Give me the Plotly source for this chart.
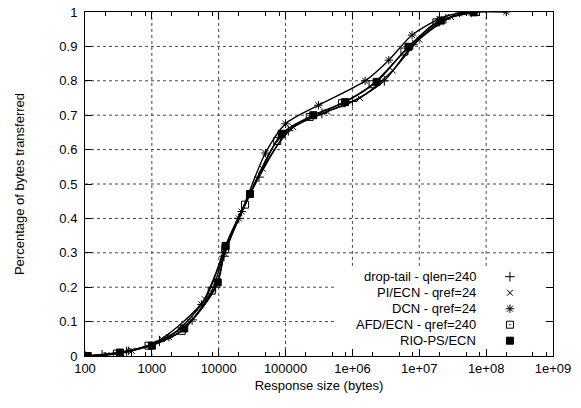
import plotly.graph_objects as go

# ---------------- data ----------------
x_tickvals = [1e2, 1e3, 1e4, 1e5, 1e6, 1e7, 1e8, 1e9]
x_ticktext = ["100", "1000", "10000", "100000", "1e+06", "1e+07", "1e+08", "1e+09"]
y_tickvals = [0, 0.1, 0.2, 0.3, 0.4, 0.5, 0.6, 0.7, 0.8, 0.9, 1.0]
y_ticktext = ["0", "0.1", "0.2", "0.3", "0.4", "0.5", "0.6", "0.7", "0.8", "0.9", "1"]

droptail_x = [100, 180, 420, 1300, 4000, 9000, 12000, 20000, 40000, 110000, 350000, 1e6, 3e6, 8e6, 2.5e7, 6e7]
droptail_y = [0, 0.003, 0.013, 0.043, 0.105, 0.2, 0.29, 0.40, 0.52, 0.655, 0.705, 0.74, 0.80, 0.905, 0.98, 0.999]

piecn_x = [100, 210, 500, 1400, 6200, 12400, 20000, 45000, 130000, 420000, 1.3e6, 4e6, 1e7, 3e7, 6e7]
piecn_y = [0, 0.003, 0.015, 0.05, 0.165, 0.316, 0.40, 0.545, 0.665, 0.71, 0.75, 0.83, 0.92, 0.985, 0.999]

dcn_x = [100, 450, 1800, 5500, 12000, 22000, 50000, 100000, 310000, 1.55e6, 3.5e6, 7.8e6, 2e7, 4e7, 2e8]
dcn_y = [0, 0.015, 0.055, 0.15, 0.30, 0.42, 0.59, 0.675, 0.729, 0.80, 0.86, 0.933, 0.98, 0.997, 1.0]

afd_x = [100, 300, 890, 2800, 7870, 12500, 24800, 75000, 230000, 700000, 2e6, 6e6, 1.8e7, 7e7]
afd_y = [0, 0.007, 0.03, 0.073, 0.19, 0.31, 0.44, 0.625, 0.695, 0.735, 0.79, 0.885, 0.97, 1.0]

rio_x = [110, 333, 1000, 3050, 9660, 12700, 29400, 87500, 260000, 776000, 2.3e6, 6.9e6, 2.1e7, 6.5e7]
rio_y = [0, 0.01, 0.03, 0.08, 0.214, 0.32, 0.471, 0.646, 0.70, 0.738, 0.797, 0.899, 0.975, 0.999]

series_names = ["drop-tail - qlen=240", "PI/ECN - qref=24", "DCN - qref=24",
                "AFD/ECN - qref=240", "RIO-PS/ECN"]
series_x = [droptail_x, piecn_x, dcn_x, afd_x, rio_x]
series_y = [droptail_y, piecn_y, dcn_y, afd_y, rio_y]

# ---------------- styles ----------------
symbols = ["cross-thin-open", "x-thin-open", "asterisk-open", "square-open-dot", "square"]
sizes = [7, 6, 7, 7, 7]
FONT = "Liberation Sans, Arial, Helvetica, sans-serif"
GRID = "rgb(70,70,70)"

fig = go.Figure()
for name, xs, ys, sym, sz in zip(series_names, series_x, series_y, symbols, sizes):
    fig.add_trace(go.Scatter(
        x=xs, y=ys, mode="lines+markers", name=name,
        line=dict(color="black", width=1.4, shape="spline", smoothing=0.8),
        marker=dict(symbol=sym, size=sz, color="black",
                    line=dict(color="black", width=1)),
        showlegend=False,
    ))

# custom gnuplot-style key: text on the left, sample symbol on the right
key_y = [0.2305, 0.184, 0.1375, 0.091, 0.0445]
key_left, key_top = 0.534, 0.262
for name, sym, sz, ky in zip(series_names, symbols, sizes, key_y):
    fig.add_trace(go.Scatter(
        x=[0.908], y=[ky], xaxis="x2", yaxis="y2", mode="markers",
        marker=dict(symbol=sym, size=sz, color="black", line=dict(color="black", width=1)),
        showlegend=False, hoverinfo="skip",
    ))
    fig.add_annotation(x=0.839, y=ky, xref="paper", yref="paper", text=name,
                       showarrow=False, xanchor="right", yanchor="middle",
                       font=dict(family=FONT, size=13, color="black"))

# gnuplot-style dotted grid, interrupted by the opaque key box
n_dec = 7
for i in range(1, n_dec):
    px = i / n_dec
    y0 = key_top if px > key_left else 0
    fig.add_shape(type="line", xref="paper", yref="paper", x0=px, x1=px, y0=y0, y1=1,
                  line=dict(color=GRID, width=1, dash="dot"), layer="below")
for yv in y_tickvals[1:-1]:
    x1 = key_left if yv < key_top else 1
    fig.add_shape(type="line", xref="paper", yref="paper", x0=0, x1=x1, y0=yv, y1=yv,
                  line=dict(color=GRID, width=1, dash="dot"), layer="below")

minor_vals = []
for d in range(2, 9):
    for m in (2, 5, 8):
        minor_vals.append(m * 10 ** d)

fig.update_layout(
    width=581, height=408,
    margin=dict(l=85, r=28, t=12, b=52),
    paper_bgcolor="white", plot_bgcolor="white",
    font=dict(family=FONT, size=13, color="black"),
    xaxis=dict(
        type="log", range=[2, 9], automargin=False,
        tickvals=x_tickvals, ticktext=x_ticktext,
        ticks="inside", ticklen=7, tickcolor="black",
        showline=True, linecolor="black", linewidth=1, mirror="allticks",
        showgrid=False, zeroline=False,
        minor=dict(tickvals=minor_vals, ticks="inside", ticklen=4, tickcolor="black", showgrid=False),
        title=dict(text="Response size (bytes)", font=dict(size=13), standoff=6),
        tickfont=dict(size=13),
    ),
    yaxis=dict(
        range=[0, 1], automargin=False,
        tickvals=y_tickvals, ticktext=y_ticktext,
        ticks="inside", ticklen=7, tickcolor="black",
        showline=True, linecolor="black", linewidth=1, mirror="allticks",
        showgrid=False, zeroline=False, ticklabelstandoff=4,
        title=dict(text="Percentage of bytes transferred", font=dict(size=13), standoff=31),
        tickfont=dict(size=13),
    ),
    xaxis2=dict(overlaying="x", range=[0, 1], visible=False, fixedrange=True, automargin=False),
    yaxis2=dict(overlaying="y", range=[0, 1], visible=False, fixedrange=True, automargin=False),
)

fig.write_html("out.html", config={"displayModeBar": False},
               post_script="document.body.style.margin='0';document.body.style.padding='0';")
